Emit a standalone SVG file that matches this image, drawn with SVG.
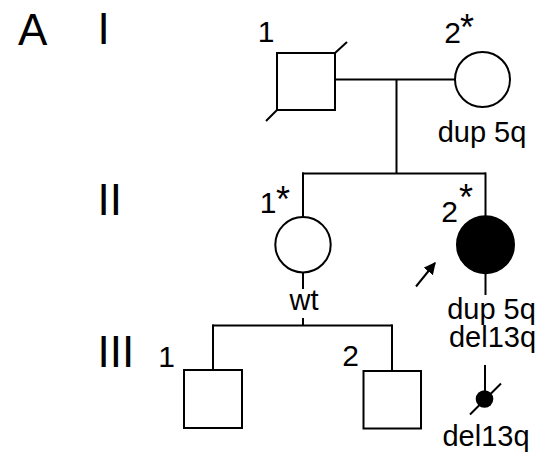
<svg xmlns="http://www.w3.org/2000/svg" width="542" height="454" viewBox="0 0 542 454">
<defs>
<style>
.ln{stroke:#000;stroke-width:2;fill:none}
.sh{stroke:#000;stroke-width:2;fill:#fff}
.af{fill:#000;stroke:#000;stroke-width:2}
text{font-family:"Liberation Sans",Arial,sans-serif;fill:#000}
.gen{font-size:44px}
.num{font-size:30px;text-anchor:middle}
.ast{font-size:36px;text-anchor:middle}
.lab{font-size:29px;text-anchor:middle}
</style>
<marker id="ah" viewBox="0 0 10 10" refX="9" refY="5" markerWidth="6" markerHeight="6" orient="auto">
<path d="M0,0 L10,5 L0,10 z" fill="#000"/>
</marker>
</defs>
<rect width="542" height="454" fill="#fff"/>
<g id="labels">
<text x="18" y="45" class="gen">A</text>
<text x="97.5" y="43.5" class="gen">I</text>
<text x="97.5" y="215" class="gen">II</text>
<text x="97.5" y="366.5" class="gen">III</text>
</g>
<g id="connectors">
<line class="ln" x1="336" y1="79.5" x2="455" y2="79.5"/>
<line class="ln" x1="396.5" y1="79.5" x2="396.5" y2="173.5"/>
<line class="ln" x1="302" y1="173.5" x2="486" y2="173.5"/>
<line class="ln" x1="303" y1="172.5" x2="303" y2="217"/>
<line class="ln" x1="485.5" y1="172.5" x2="485.5" y2="216"/>
<line class="ln" x1="303" y1="272" x2="303" y2="289"/>
<line class="ln" x1="303" y1="318" x2="303" y2="325"/>
<line class="ln" x1="212.5" y1="325.5" x2="392.5" y2="325.5"/>
<line class="ln" x1="213" y1="324.5" x2="213" y2="370"/>
<line class="ln" x1="392" y1="324.5" x2="392" y2="371"/>
<line class="ln" x1="485.5" y1="273" x2="485.5" y2="295"/>
<line class="ln" x1="485" y1="365" x2="485" y2="392"/>
<line class="ln" x1="416" y1="286.5" x2="435" y2="263" marker-end="url(#ah)"/>
</g>
<g id="I-1">
<rect class="sh" x="277" y="53" width="58" height="57"/>
<line class="ln" x1="266" y1="121" x2="277" y2="110"/>
<line class="ln" x1="335" y1="53" x2="347" y2="42"/>
<text x="266" y="42" class="num">1</text>
</g>
<g id="I-2">
<circle class="sh" cx="482.5" cy="79.5" r="27.5"/>
<text x="452.5" y="43" class="num">2</text>
<text x="467" y="40" class="ast">*</text>
<text x="482" y="142" class="lab">dup 5q</text>
</g>
<g id="II-1">
<circle class="sh" cx="303" cy="244.7" r="27.7"/>
<text x="268" y="213" class="num">1</text>
<text x="283" y="212" class="ast">*</text>
<text x="304" y="310" class="lab">wt</text>
</g>
<g id="II-2">
<circle class="af" cx="485.5" cy="244.7" r="28.5"/>
<text x="449.5" y="222" class="num">2</text>
<text x="466" y="210" class="ast">*</text>
<text x="491.5" y="318.5" class="lab">dup 5q</text>
<text x="492.5" y="347" class="lab">del13q</text>
</g>
<g id="III-1">
<rect class="sh" x="184" y="370" width="58" height="58"/>
<text x="166.5" y="366.5" class="num">1</text>
</g>
<g id="III-2">
<rect class="sh" x="363.5" y="371" width="57.5" height="57.5"/>
<text x="350.5" y="366" class="num">2</text>
</g>
<g id="III-3">
<circle fill="#000" cx="484.5" cy="399" r="8.8"/>
<line class="ln" x1="470" y1="414.5" x2="501" y2="383.5"/>
<text x="486" y="445.5" class="lab">del13q</text>
</g>
</svg>
